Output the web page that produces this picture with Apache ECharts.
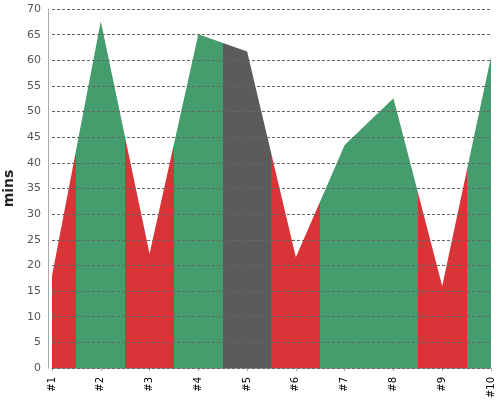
<!DOCTYPE html>
<html><head><meta charset="utf-8">
<script src="https://cdn.jsdelivr.net/npm/echarts@6/dist/echarts.min.js"></script>
<style>html,body{margin:0;padding:0;background:#fff}#c{width:500px;height:400px}</style>
</head><body><div id="c"></div>
<script>
var categories = ['#1','#2','#3','#4','#5','#6','#7','#8','#9','#10'];
var minutes = [18, 67.6, 22.3, 65.1, 61.7, 21.6, 43.5, 52.6, 16, 60.7];
var pointColors = ['#d93538','#459c6c','#d93538','#459c6c','#5b5b5b','#d93538','#459c6c','#459c6c','#d93538','#459c6c'];
var yTicks = {min: 0, max: 70, interval: 5};

var seriesData = minutes.map(function(v, i){ return [i + 1, v]; });
var pieces = pointColors.map(function(c, i){
  return {gte: i + 0.5, lt: i + 1.5, color: c};
});

var chart = echarts.init(document.getElementById('c'), null, {renderer:'canvas'});
chart.setOption({
  animation: false,
  grid: {left: 52, right: 9, top: 9, bottom: 32, outerBoundsMode: 'none', containLabel: false},
  xAxis: {
    type: 'value', min: 1, max: categories.length, interval: 1,
    offset: 4,
    splitLine: {show: false},
    axisLine: {lineStyle: {color: '#aaa'}},
    axisTick: {show: true, lineStyle: {color: '#aaa'}, length: 3},
    axisLabel: {rotate: 90, color: '#000', fontSize: 10, fontFamily: 'DejaVu Sans', margin: 5,
      formatter: function(v){ return categories[Math.round(v) - 1] || ''; }}
  },
  yAxis: {
    type: 'value', min: yTicks.min, max: yTicks.max, interval: yTicks.interval,
    offset: 4, z: 5,
    name: 'mins', nameLocation: 'middle', nameGap: 26,
    nameTextStyle: {fontSize: 14, fontWeight: 'bold', color: '#222', fontFamily: 'DejaVu Sans'},
    axisLine: {show: true, lineStyle: {color: '#aaa'}},
    axisTick: {show: false},
    axisLabel: {color: '#555', fontSize: 11, fontFamily: 'DejaVu Sans', margin: 7},
    splitLine: {show: true, lineStyle: {color: '#666', type: [3, 2], width: 1}}
  },
  visualMap: {show: false, type: 'piecewise', dimension: 0, seriesIndex: 0, pieces: pieces},
  series: [{
    type: 'line', data: seriesData, showSymbol: false, symbol: 'none',
    lineStyle: {width: 0},
    areaStyle: {opacity: 1}
  }]
});
</script></body></html>
